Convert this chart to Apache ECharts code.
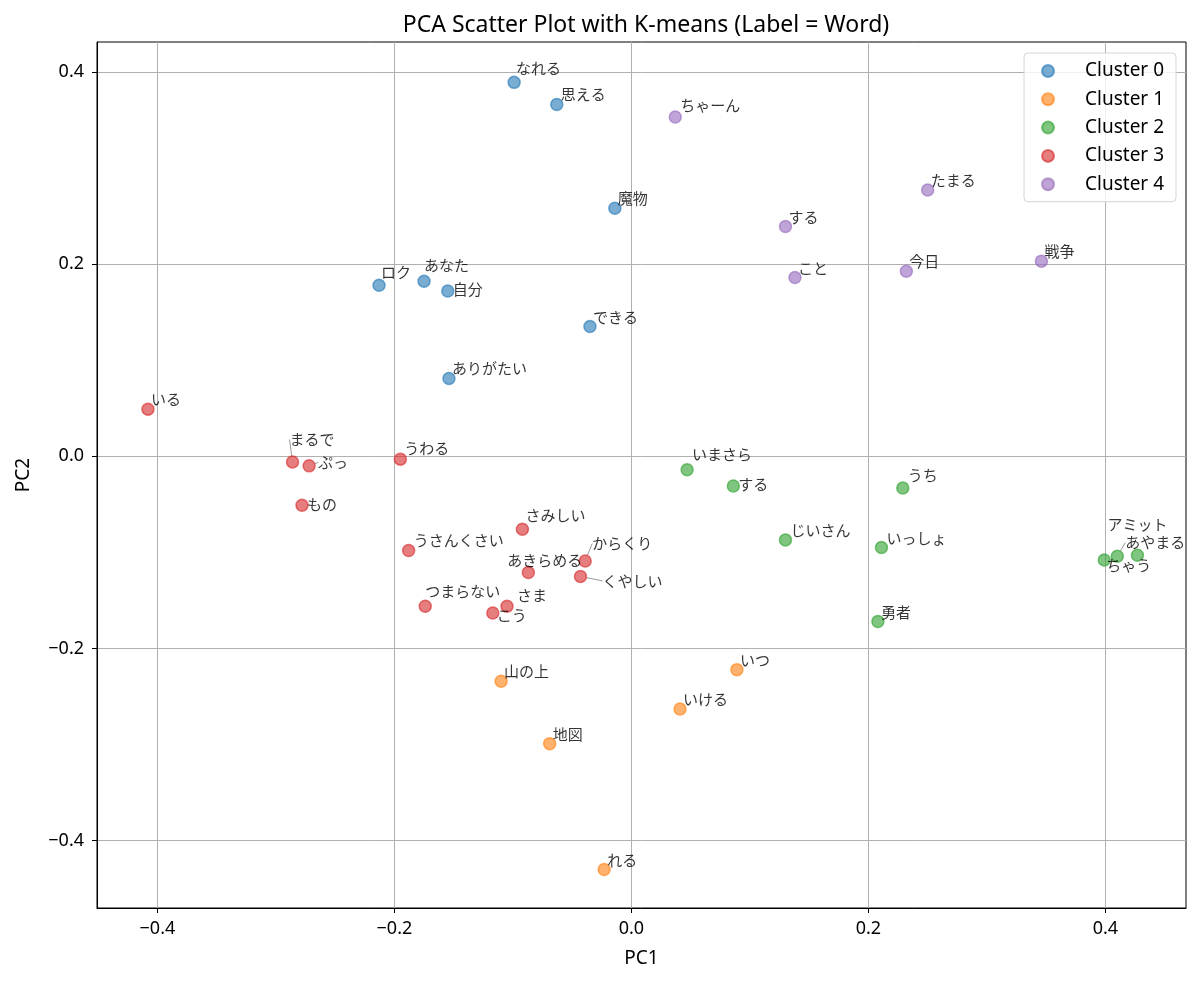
<!DOCTYPE html>
<html>
<head>
<meta charset="utf-8">
<script src="https://cdn.jsdelivr.net/npm/echarts@6/dist/echarts.min.js"></script>
<style>
  html, body {margin: 0; padding: 0; background: #fff;}
  #chart {width: 1200px; height: 982px;}
</style>
</head>
<body>
<div id="chart"></div>
<script>
// cluster data (PC1, PC2)
var words0 = ['なれる', '思える', '魔物', 'ロク', 'あなた', '自分', 'できる', 'ありがたい'];
var x0 = [-0.099, -0.063, -0.014, -0.213, -0.175, -0.155, -0.035, -0.154];
var y0 = [0.389, 0.366, 0.258, 0.178, 0.182, 0.172, 0.135, 0.081];

var words1 = ['山の上', 'いつ', 'いける', '地図', 'れる'];
var x1 = [-0.110, 0.089, 0.041, -0.069, -0.023];
var y1 = [-0.234, -0.222, -0.263, -0.299, -0.430];

var words2 = ['いまさら', 'する', 'うち', 'じいさん', 'いっしょ', '勇者', 'ちゃう', 'あやまる', 'アミット'];
var x2 = [0.047, 0.086, 0.229, 0.130, 0.211, 0.208, 0.399, 0.410, 0.427];
var y2 = [-0.014, -0.031, -0.033, -0.087, -0.095, -0.172, -0.108, -0.104, -0.103];

var words3 = ['いる', 'まるで', 'ぷっ', 'うわる', 'もの', 'さみしい', 'うさんくさい', 'からくり', 'あきらめる', 'くやしい', 'つまらない', 'さま', 'こう'];
var x3 = [-0.408, -0.286, -0.272, -0.195, -0.278, -0.092, -0.188, -0.039, -0.087, -0.043, -0.174, -0.105, -0.117];
var y3 = [0.049, -0.006, -0.010, -0.003, -0.051, -0.076, -0.098, -0.109, -0.121, -0.125, -0.156, -0.156, -0.163];

var words4 = ['ちゃーん', 'たまる', 'する', 'こと', '今日', '戦争'];
var x4 = [0.037, 0.250, 0.130, 0.138, 0.232, 0.346];
var y4 = [0.353, 0.277, 0.239, 0.186, 0.1925, 0.203];

var clusterNames = ['Cluster 0', 'Cluster 1', 'Cluster 2', 'Cluster 3', 'Cluster 4'];
var tickValues = [-0.4, -0.2, 0, 0.2, 0.4];

// tab10 colours
var palette = ['31,119,180', '255,127,14', '44,160,44', '214,39,40', '148,103,189'];

// label nudges in px: [dx, dy, leaderLine]  (text left/bottom relative to the point)
var labelNudge = {
    '0|なれる': [2, -7], '0|思える': [4, -3], '0|ロク': [2, -5], '0|あなた': [0, -9], '0|自分': [5, 6],
    '0|ありがたい': [3, -3],
    '4|ちゃーん': [5, -4],
    '3|まるで': [-3, -15, true], '3|ぷっ': [9, 4, true], '3|うわる': [4, -3], '3|もの': [5, 7],
    '3|さみしい': [3, -7], '3|うさんくさい': [5, -3], '3|からくり': [7, -10, true],
    '3|あきらめる': [-21, -5], '3|くやしい': [22, 12, true], '3|つまらない': [0, -7],
    '3|さま': [10, -3], '3|こう': [4, 10],
    '2|いまさら': [5, -8], '2|する': [5, 6], '2|うち': [5, -5], '2|じいさん': [5, -2],
    '2|いっしょ': [5, -2], '2|ちゃう': [2, 13], '2|あやまる': [8, -6, true], '2|アミット': [-30, -23]
};
var defaultNudge = [3, -2];

var allWords = [words0, words1, words2, words3, words4];
var allX = [x0, x1, x2, x3, x4];
var allY = [y0, y1, y2, y3, y4];

var FONT = '"Noto Sans", "Noto Sans CJK JP", sans-serif';

function getNudge(c, w) {
    return labelNudge[c + '|' + w] || defaultNudge;
}

function minusFmt(v) {
    var s = (Math.abs(v) < 1e-9) ? '0.0' : v.toFixed(1);
    return s.replace('-', '\u2212');
}

var series = [];
for (var c = 0; c < 5; c++) {
    var data = [];
    for (var i = 0; i < allWords[c].length; i++) {
        var item = {value: [allX[c][i], allY[c][i]], name: allWords[c][i]};
        if (getNudge(c, allWords[c][i])[2]) {
            item.labelLine = {show: true};
        }
        data.push(item);
    }
    series.push({
        name: clusterNames[c],
        type: 'scatter',
        symbol: 'circle',
        symbolSize: 12,
        data: data,
        itemStyle: {
            color: 'rgba(' + palette[c] + ',0.75)',
            borderColor: 'rgba(' + palette[c] + ',0.75)',
            borderWidth: 1.5
        },
        label: {
            show: true,
            formatter: '{b}',
            color: '#000',
            fontSize: 15,
            fontFamily: '"Noto Sans CJK JP", sans-serif'
        },
        labelLine: {
            show: false,
            lineStyle: {color: '#999', width: 1}
        },
        labelLayout: (function (cc) {
            return function (p) {
                var n = getNudge(cc, allWords[cc][p.dataIndex]);
                var cx = p.rect.x + p.rect.width / 2;
                var cy = p.rect.y + p.rect.height / 2;
                return {x: cx + n[0], y: cy + n[1], align: 'left', verticalAlign: 'bottom'};
            };
        })(c),
        emphasis: {disabled: true},
        z: 3
    });
}

var myChart = echarts.init(document.getElementById('chart'));
myChart.setOption({
    backgroundColor: '#fff',
    animation: false,
    textStyle: {fontFamily: FONT},
    title: {
        text: 'PCA Scatter Plot with K-means (Label = Word)',
        left: 641,
        textAlign: 'center',
        top: 9,
        textStyle: {fontSize: 23, fontWeight: 'normal', color: '#000', fontFamily: FONT}
    },
    legend: {
        orient: 'vertical',
        right: 24,
        top: 53,
        data: clusterNames,
        icon: 'circle',
        itemWidth: 20,
        itemHeight: 12,
        itemGap: 9.3,
        padding: [8.5, 12, 8, 17],
        backgroundColor: 'rgba(255,255,255,0.8)',
        borderColor: '#d5d5d5',
        borderWidth: 1,
        borderRadius: 4,
        textStyle: {fontSize: 19, lineHeight: 19, color: '#000', fontFamily: FONT, padding: [0, 0, 0, 22]}
    },
    grid: {
        left: 97, right: 14, top: 42, bottom: 74,
        show: true, borderColor: '#000', borderWidth: 1,
        containLabel: false
    },
    xAxis: {
        type: 'value',
        min: -0.451, max: 0.468,
        name: 'PC1',
        nameLocation: 'middle',
        nameGap: 41,
        nameTextStyle: {fontSize: 19, color: '#000', fontFamily: FONT},
        axisLine: {show: true, onZero: false, lineStyle: {color: '#000', width: 1}},
        axisTick: {show: true, length: 5, customValues: tickValues, lineStyle: {color: '#000'}},
        axisLabel: {customValues: tickValues, formatter: minusFmt, fontSize: 18, color: '#000', margin: 12},
        splitLine: {show: true, lineStyle: {color: '#b0b0b0', width: 1}}
    },
    yAxis: {
        type: 'value',
        min: -0.470, max: 0.431,
        name: 'PC2',
        nameLocation: 'middle',
        nameGap: 64,
        nameRotate: 90,
        nameTextStyle: {fontSize: 19, color: '#000', fontFamily: FONT},
        axisLine: {show: true, onZero: false, lineStyle: {color: '#000', width: 1}},
        axisTick: {show: true, length: 5, customValues: tickValues, lineStyle: {color: '#000'}},
        axisLabel: {customValues: tickValues, formatter: minusFmt, fontSize: 18, color: '#000', margin: 13},
        splitLine: {show: true, lineStyle: {color: '#b0b0b0', width: 1}}
    },
    series: series
});
</script>
</body>
</html>
